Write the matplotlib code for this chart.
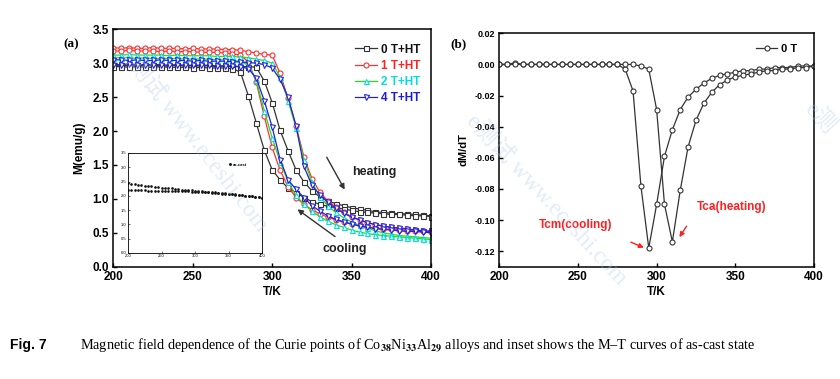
import numpy as np
import matplotlib
matplotlib.use('Agg')
import matplotlib.pyplot as plt

plt.rcParams['font.family'] = ['Liberation Sans', 'DejaVu Sans']
plt.rcParams['font.weight'] = 'bold'
plt.rcParams['mathtext.fontset'] = 'stix'

# temperature grid (K)
T = list(range(200, 405, 5))

# panel (a): M(T), heating and cooling branches for each field
m0_heat = [2.97, 2.97, 2.96, 2.97, 2.96, 2.97, 2.96, 2.96, 2.97, 2.96, 2.96, 2.96, 2.96, 2.95, 2.96, 2.95, 2.95, 2.95, 2.94,
           2.74, 2.42, 2.01, 1.71, 1.43, 1.25, 1.12, 1.03, 0.97, 0.93, 0.90, 0.87, 0.85, 0.83, 0.81, 0.80, 0.79, 0.78,
           0.78, 0.77, 0.76, 0.75]
m0_cool = [2.95, 2.95, 2.94, 2.95, 2.94, 2.94, 2.95, 2.94, 2.94, 2.94, 2.93, 2.94, 2.93, 2.93, 2.93, 2.92,
           2.87, 2.52, 2.12, 1.72, 1.43, 1.28, 1.16, 1.09, 1.02, 0.96, 0.92, 0.89, 0.87, 0.85, 0.83, 0.81, 0.80,
           0.79, 0.78, 0.77, 0.77, 0.76, 0.75, 0.75, 0.74]
m1_heat = [3.23, 3.22, 3.23, 3.22, 3.22, 3.23, 3.22, 3.22, 3.22, 3.21, 3.22, 3.21, 3.21, 3.21, 3.20,
           3.20, 3.19, 3.17, 3.15, 3.13, 3.12, 2.85, 2.48, 2.08, 1.62, 1.30, 1.10, 0.97, 0.88, 0.80, 0.74, 0.69,
           0.65, 0.62, 0.60, 0.58, 0.56, 0.55, 0.54, 0.53, 0.52]
m1_cool = [3.18, 3.18, 3.19, 3.18, 3.18, 3.18, 3.17, 3.18, 3.17, 3.17, 3.17, 3.16, 3.16, 3.16, 3.15, 3.14, 3.12,
           3.02, 2.72, 2.22, 1.76, 1.42, 1.18, 1.02, 0.92, 0.84, 0.78, 0.73, 0.69, 0.66, 0.63, 0.61, 0.59, 0.57,
           0.56, 0.55, 0.54, 0.53, 0.53, 0.52, 0.51]
m2_heat = [3.12, 3.12, 3.13, 3.12, 3.12, 3.12, 3.12, 3.11, 3.12, 3.11, 3.11, 3.11, 3.11, 3.10, 3.10, 3.10, 3.09, 3.08, 3.06,
           3.04, 3.00, 2.80, 2.45, 2.05, 1.58, 1.25, 1.03, 0.90, 0.80, 0.72, 0.66, 0.61, 0.57, 0.53, 0.50, 0.48,
           0.46, 0.45, 0.44, 0.43, 0.42]
m2_cool = [3.08, 3.08, 3.08, 3.07, 3.08, 3.07, 3.07, 3.07, 3.07, 3.06, 3.06, 3.06, 3.06, 3.05, 3.05, 3.04, 3.03,
           2.97, 2.75, 2.30, 1.90, 1.55, 1.25, 1.05, 0.92, 0.82, 0.74, 0.67, 0.62, 0.58, 0.54, 0.51, 0.49, 0.47,
           0.46, 0.45, 0.44, 0.43, 0.42, 0.41, 0.40]
m4_heat = [3.05, 3.05, 3.04, 3.05, 3.04, 3.04, 3.05, 3.04, 3.04, 3.04, 3.03, 3.04, 3.03, 3.03, 3.03, 3.02, 3.02, 3.01,
           3.00, 2.98, 2.93, 2.76, 2.50, 2.08, 1.48, 1.20, 1.06, 0.95, 0.86, 0.79, 0.73, 0.69, 0.65, 0.62, 0.60,
           0.58, 0.57, 0.56, 0.54, 0.53, 0.52]
m4_cool = [2.98, 2.98, 2.99, 2.98, 2.98, 2.98, 2.98, 2.97, 2.98, 2.97, 2.97, 2.97, 2.97, 2.96, 2.96, 2.96, 2.95,
           2.92, 2.78, 2.45, 2.06, 1.58, 1.28, 1.14, 1.02, 0.90, 0.82, 0.75, 0.70, 0.66, 0.63, 0.60, 0.58, 0.56,
           0.55, 0.54, 0.53, 0.52, 0.52, 0.51, 0.50]

# inset: as-cast M(T)
ascast_a = [2.45, 2.43, 2.41, 2.39, 2.38, 2.36, 2.35, 2.33, 2.32, 2.31, 2.29, 2.28, 2.27, 2.26, 2.25, 2.23, 2.22,
            2.21, 2.20, 2.19, 2.18, 2.17, 2.16, 2.15, 2.14, 2.13, 2.12, 2.11, 2.10, 2.09, 2.07, 2.06, 2.05, 2.04,
            2.02, 2.01, 2.00, 1.98, 1.97, 1.95, 1.93]
ascast_b = [2.20, 2.20, 2.19, 2.19, 2.19, 2.19, 2.18, 2.18, 2.18, 2.18, 2.18, 2.17, 2.17, 2.17, 2.17, 2.17, 2.16,
            2.16, 2.16, 2.15, 2.15, 2.14, 2.14, 2.13, 2.12, 2.11, 2.10, 2.09, 2.08, 2.07, 2.06, 2.05, 2.04, 2.03,
            2.02, 2.00, 1.99, 1.98, 1.96, 1.95, 1.93]

# panel (b): dM/dT at 0 T
dm_cool = [0.000, 0.000, 0.001, 0.000, 0.000, 0.000, 0.000, 0.000, 0.000, 0.000, 0.000, 0.000, 0.000, 0.000,
           0.000, 0.000, -0.003, -0.017, -0.078, -0.118, -0.090, -0.059, -0.042, -0.029, -0.021, -0.016, -0.012,
           -0.009, -0.007, -0.006, -0.005, -0.004, -0.004, -0.003, -0.003, -0.002, -0.002, -0.002, -0.001,
           -0.001, -0.001]
dm_heat = [0.000, 0.000, 0.000, 0.000, 0.000, 0.000, 0.000, 0.000, 0.000, 0.000, 0.000, 0.000, 0.000, 0.000,
           0.000, 0.000, 0.000, 0.000, -0.001, -0.003, -0.029, -0.090, -0.114, -0.081, -0.053, -0.036, -0.025,
           -0.018, -0.013, -0.010, -0.008, -0.007, -0.006, -0.005, -0.004, -0.004, -0.003, -0.003, -0.002,
           -0.002, -0.001]

labels = ['0 T+HT', '1 T+HT', '2 T+HT', '4 T+HT']
line_colors = ['#333333', '#ff3030', '#22dd22', '#2020dd']
mark_colors = ['#333333', '#ff3030', '#00e0e0', '#2020dd']
text_colors = ['#111111', '#ff2020', '#00dddd', '#1a1add']
markers = ['s', 'o', '^', 'v']

fig = plt.figure(figsize=(8.4, 3.79), dpi=100)
ax1 = fig.add_axes([0.1349, 0.2963, 0.3782, 0.6264])
ax2 = fig.add_axes([0.5944, 0.2963, 0.3746, 0.6158])

series = [(m0_heat, m0_cool), (m1_heat, m1_cool), (m2_heat, m2_cool), (m4_heat, m4_cool)]
for i, (mh, mc) in enumerate(series):
    kw = dict(color=line_colors[i], marker=markers[i], markersize=3.6, markerfacecolor='white',
              markeredgecolor=mark_colors[i], markeredgewidth=0.8, linewidth=0.9)
    ax1.plot(T, mh, label=labels[i], **kw)
    ax1.plot(T, mc, **kw)

ax1.set_xlim(200, 400)
ax1.set_ylim(0, 3.5)
ax1.set_xticks([200, 250, 300, 350, 400])
ax1.set_yticks(np.arange(0, 3.51, 0.5))
ax1.set_yticklabels(['0.0', '0.5', '1.0', '1.5', '2.0', '2.5', '3.0', '3.5'])
ax1.set_xlabel('T/K', fontsize=8.5, fontweight='bold', labelpad=2)
ax1.set_ylabel('M(emu/g)', fontsize=8.5, fontweight='bold', labelpad=5)
leg = ax1.legend(loc='upper right', bbox_to_anchor=(0.98, 0.96), frameon=False, fontsize=8.5,
                 handlelength=1.9, handletextpad=0.3, labelspacing=0.35, borderaxespad=0,
                 labelcolor=text_colors)

ax1.annotate('', xy=(346.5, 1.10), xytext=(333.5, 1.65),
             arrowprops=dict(arrowstyle='-|>', color='#333333', lw=1.0, mutation_scale=8))
ax1.annotate('', xy=(314.5, 0.87), xytext=(341, 0.42),
             arrowprops=dict(arrowstyle='-|>', color='#333333', lw=1.0, mutation_scale=8))
ax1.text(364, 1.40, 'heating', fontsize=9, fontweight='bold', ha='center', va='center', color='#222222')
ax1.text(346, 0.26, 'cooling', fontsize=9, fontweight='bold', ha='center', va='center', color='#222222')

# inset with the as-cast curves
ins = fig.add_axes([128 / 840, 1 - 253 / 379, 134 / 840, 100 / 379])
ins.plot(T, ascast_a, linestyle='none', marker='.', markersize=1.8, color='#111111', label='as-cast')
ins.plot(T, ascast_b, linestyle='none', marker='.', markersize=1.8, color='#111111')
ins.set_xlim(200, 400)
ins.set_ylim(0, 3.5)
ins.set_xticks([200, 250, 300, 350, 400])
ins.set_yticks(np.arange(0, 3.51, 0.5))
ins.tick_params(labelsize=3, length=1.5, width=0.4, pad=1, direction='in')
for lab in ins.get_xticklabels() + ins.get_yticklabels():
    lab.set_fontweight('normal')
for s in ins.spines.values():
    s.set_linewidth(0.6)
ins.legend(loc='upper right', bbox_to_anchor=(0.9, 0.92), frameon=False, fontsize=3, handlelength=0.8,
           handletextpad=0.3, markerscale=1.2, borderaxespad=0)

ax2.plot(T, dm_cool, color='#333333', marker='o', markersize=3.6, markerfacecolor='white',
         markeredgecolor='#333333', markeredgewidth=0.8, linewidth=0.9, label='0 T')
ax2.plot(T, dm_heat, color='#333333', marker='o', markersize=3.6, markerfacecolor='white',
         markeredgecolor='#333333', markeredgewidth=0.8, linewidth=0.9)
ax2.set_xlim(200, 400)
ax2.set_ylim(-0.13, 0.02)
ax2.set_xticks([200, 250, 300, 350, 400])
ax2.set_yticks([-0.12, -0.10, -0.08, -0.06, -0.04, -0.02, 0.00, 0.02])
ax2.set_yticklabels(['-0.12', '-0.10', '-0.08', '-0.06', '-0.04', '-0.02', '0.00', '0.02'])
ax2.set_xlabel('T/K', fontsize=8.5, fontweight='bold', labelpad=2)
ax2.set_ylabel('dM/dT', fontsize=8, fontweight='bold', labelpad=4)
ax2.legend(loc='upper right', bbox_to_anchor=(0.96, 0.975), frameon=False, fontsize=8,
           handlelength=1.9, handletextpad=0.3, borderaxespad=0)

ax2.annotate('', xy=(293.5, -0.1185), xytext=(282, -0.1135),
             arrowprops=dict(arrowstyle='-|>', color='#ff2020', lw=1.0, mutation_scale=7))
ax2.annotate('', xy=(313.5, -0.1125), xytext=(320, -0.1025),
             arrowprops=dict(arrowstyle='-|>', color='#ff2020', lw=1.0, mutation_scale=7))
ax2.text(248.5, -0.1035, 'Tcm(cooling)', fontsize=8.5, fontweight='bold', color='#ff2020',
         ha='center', va='center')
ax2.text(348, -0.0915, 'Tca(heating)', fontsize=8.5, fontweight='bold', color='#ff2020',
         ha='center', va='center')

for ax, fs in ((ax1, 8.5), (ax2, 6.5)):
    ax.tick_params(direction='in', length=3, width=1.0, pad=3)
    ax.tick_params(axis='x', labelsize=8.5)
    ax.tick_params(axis='y', labelsize=fs)
    for lab in ax.get_xticklabels() + ax.get_yticklabels():
        lab.set_fontweight('bold')
    for s in ax.spines.values():
        s.set_linewidth(1.1)

fig.text(63 / 840, 1 - 44 / 379, '(a)', family='Liberation Serif', fontsize=9.5, fontweight='bold',
         ha='left', va='center')
fig.text(450 / 840, 1 - 44 / 379, '(b)', family='Liberation Serif', fontsize=9.5, fontweight='bold',
         ha='left', va='center')

# watermark
wm = dict(family=['Liberation Serif', 'Noto Sans CJK SC'], fontsize=17, color='#a9c9e8', alpha=0.35,
          fontweight='normal', rotation_mode='anchor', ha='left', va='center')
fig.text(125 / 840, 1 - 52 / 379, 'e测试 www.eceshi.com', rotation=-52, **wm)
fig.text(470 / 840, 1 - 118 / 379, 'e测试 www.eceshi.com', rotation=-47, **wm)
fig.text(808 / 840, 1 - 106 / 379, 'e测', rotation=-47, **wm)

# caption
fig.text(10 / 840, 1 - 345 / 379, 'Fig. 7', fontsize=10, fontweight='bold', ha='left', va='center')
fig.text(80 / 840, 1 - 345 / 379,
         'Magnetic field dependence of the Curie points of Co$_{38}$Ni$_{33}$Al$_{29}$ alloys and inset '
         'shows the M\u2013T curves of as-cast state',
         family='Liberation Serif', fontsize=10.3, fontweight='normal', ha='left', va='center')

fig.savefig('out.png', dpi=100)
